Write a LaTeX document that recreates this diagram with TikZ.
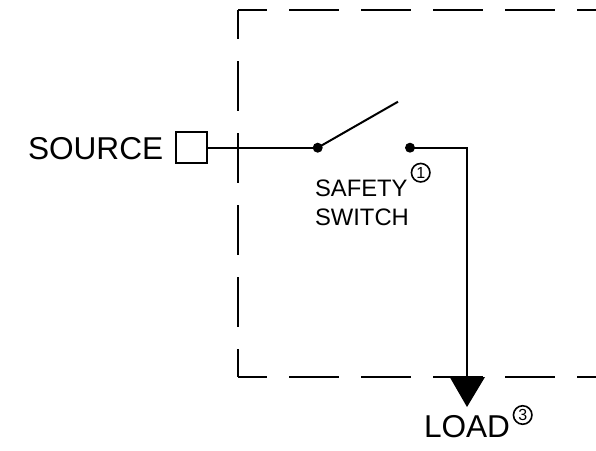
\documentclass[tikz,border=0pt]{standalone}
\usepackage{fontspec}
\setmainfont{Liberation Sans}
\tikzset{
  x=1pt,y=-1pt,
  wire/.style={line width=2pt,line cap=butt,black},
  bound/.style={line width=2pt,black,dash pattern=on 49.5pt off 22.5pt,dash phase=21pt},
  lab/.style={anchor=base west,inner sep=0pt,outer sep=0pt},
  bigtext/.style={lab,font=\fontsize{31.6}{36}\selectfont},
  smalltext/.style={lab,font=\fontsize{23.8}{28}\selectfont},
  dotnode/.style={circle,fill=black,draw=none,minimum size=10pt,inner sep=0pt},
  ref/.style={circle,draw=black,line width=1.6pt,minimum size=18.5pt,inner sep=0pt,font=\fontsize{16}{17}\selectfont},
  termbox/.style={rectangle,draw=black,line width=2pt,minimum width=31.5pt,minimum height=31pt,inner sep=0pt,fill=white},
  tri/.style={fill=black,draw=none}
}
\begin{document}
\begin{tikzpicture}
\useasboundingbox (0,0) rectangle (596,450);
\fill[white] (0,0) rectangle (596,450);
\coordinate (tl) at (238,10);
\coordinate (tr) at (596,10);
\coordinate (bl) at (238,377);
\coordinate (br) at (596,377);
\draw[bound] (tl) -- (tr);
\draw[bound] (tl) -- (bl);
\draw[bound] (bl) -- (br);
\draw[wire,line cap=square,dash pattern=on 0.01pt off 10pt] (tl) -- ++(0.01,0);
\draw[wire,line cap=square,dash pattern=on 0.01pt off 10pt] (bl) -- ++(0.01,0);
\node[termbox] (term) at (191.5,147.7) {};
\node[dotnode] (d1) at (317.7,147.7) {};
\node[dotnode] (d2) at (410,147.7) {};
\coordinate (armend) at (398,101.7);
\coordinate (bend) at (467,147.7);
\coordinate (tipTop) at (467,378);
\draw[wire] (term.east) -- (d1.center);
\draw[wire] (d1.center) -- (armend);
\draw[wire,line join=miter] (d2.center) -- (bend) -- (tipTop);
\fill[tri] (449.7,377) -- (485,377) -- (467,407) -- cycle;
\node[bigtext] (src) at (28,159.5) {SOURCE};
\node[bigtext] (load) at (424,437) {LOAD};
\node[smalltext] (safety) at (315,196.7) {SAFETY};
\node[smalltext] (switch) at (315,225) {SWITCH};
\node[ref] (r1) at (420.7,172.7) {1};
\node[ref] (r3) at (522.7,415) {3};
\end{tikzpicture}
\end{document}
